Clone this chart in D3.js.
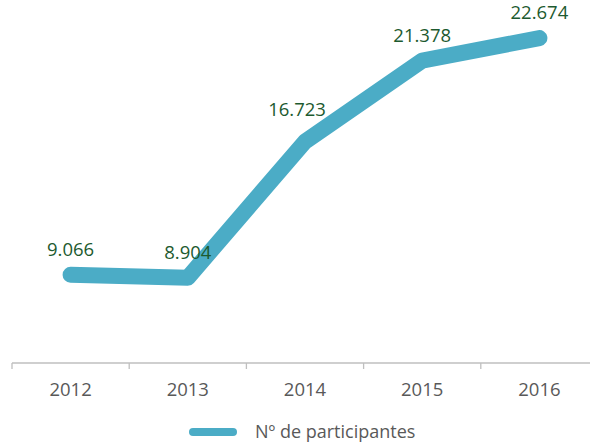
<!DOCTYPE html>
<html>
<head>
<meta charset="utf-8">
<script src="https://cdn.jsdelivr.net/npm/d3@7"></script>
<style>
  html, body { margin: 0; padding: 0; background: #fff; }
  svg { display: block; font-family: "Open Sans", "Noto Sans", sans-serif; }
</style>
</head>
<body>
<div id="chart"></div>
<script>
const years = ["2012", "2013", "2014", "2015", "2016"];
const participantes = [9066, 8904, 16723, 21378, 22674];
const seriesName = "Nº de participantes";

const width = 590, height = 442;
const axisY = 363;

const svg = d3.select("#chart").append("svg")
  .attr("width", width)
  .attr("height", height);

const x = d3.scaleBand().domain(years).range([12, 598]);
const y = d3.scaleLinear().domain([4000, 24000]).range([axisY, 15]);

const ptLocale = d3.formatLocale({ decimal: ",", thousands: ".", grouping: [3], currency: ["", ""] });
const fmt = ptLocale.format(",d");

const data = years.map((yr, i) => ({ year: yr, value: participantes[i] }));
const cx = d => x(d.year) + x.bandwidth() / 2;

// axis line + boundary ticks
const axis = svg.append("g");
axis.append("line")
  .attr("x1", x.range()[0]).attr("x2", x.range()[1])
  .attr("y1", axisY).attr("y2", axisY)
  .attr("stroke", "#bfbfbf").attr("stroke-width", 1.3);

const edges = years.map(yr => x(yr)).concat([x.range()[1]]);
axis.selectAll(".tick-edge").data(edges).enter()
  .append("line")
  .attr("class", "tick-edge")
  .attr("x1", d => d).attr("x2", d => d)
  .attr("y1", axisY).attr("y2", axisY + 6)
  .attr("stroke", "#bfbfbf").attr("stroke-width", 1.3);

axis.selectAll(".year").data(years).enter()
  .append("text")
  .attr("class", "year")
  .attr("x", d => x(d) + x.bandwidth() / 2)
  .attr("y", 396)
  .attr("text-anchor", "middle")
  .attr("font-size", 18.5)
  .attr("fill", "#595959")
  .text(d => d);

// series line
const line = d3.line().x(cx).y(d => y(d.value));

svg.append("path")
  .datum(data)
  .attr("d", line)
  .attr("fill", "none")
  .attr("stroke", "#4bacc6")
  .attr("stroke-width", 16)
  .attr("stroke-linecap", "round")
  .attr("stroke-linejoin", "round");

// data labels (the 2014 one sits a bit left/up to clear the line)
svg.selectAll(".lbl").data(data).enter()
  .append("text")
  .attr("class", "lbl")
  .attr("x", d => cx(d) - (d.year === "2014" ? 8 : 0))
  .attr("y", d => y(d.value) - (d.year === "2014" ? 26 : 19))
  .attr("text-anchor", "middle")
  .attr("font-size", 18.5)
  .attr("fill", "#1d5a2f")
  .text(d => fmt(d.value));

// legend
const lg = svg.append("g");
lg.append("line")
  .attr("x1", 193).attr("x2", 233)
  .attr("y1", 432).attr("y2", 432)
  .attr("stroke", "#4bacc6")
  .attr("stroke-width", 8)
  .attr("stroke-linecap", "round");
lg.append("text")
  .attr("x", 255).attr("y", 438)
  .attr("font-size", 18)
  .attr("fill", "#595959")
  .text(seriesName);
</script>
</body>
</html>
